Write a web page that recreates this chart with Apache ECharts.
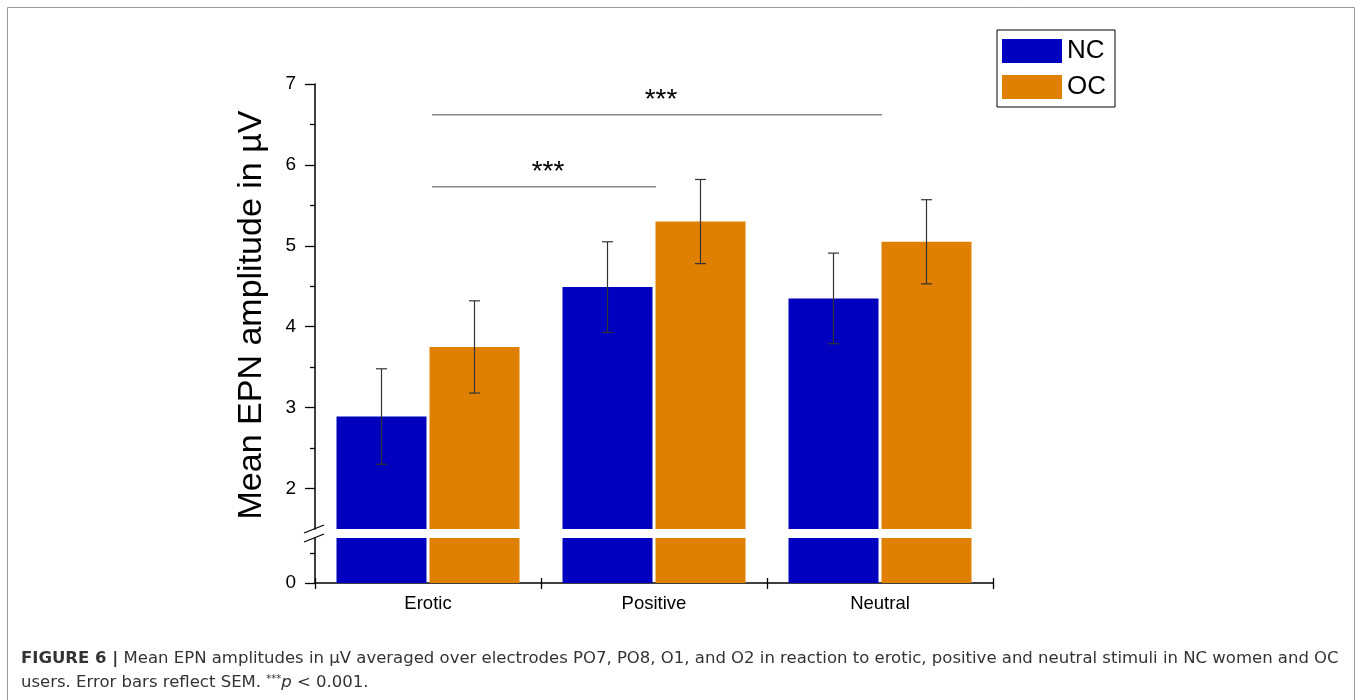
<!DOCTYPE html>
<html>
<head>
<meta charset="utf-8">
<script src="https://cdn.jsdelivr.net/npm/echarts@6/dist/echarts.min.js"></script>
<style>
html, body { margin: 0; padding: 0; background: #fff; }
#epn { width: 1362px; height: 700px; }
</style>
</head>
<body>
<div id="epn"></div>
<script>
// data (µV)
var categories = ['Erotic', 'Positive', 'Neutral'];
var ncMean = [2.89, 4.49, 4.35];
var ncSem = [0.59, 0.56, 0.56];
var ocMean = [3.75, 5.30, 5.05];
var ocSem = [0.57, 0.52, 0.52];

// ticks of the broken y axis
var upperTicks = [2, 3, 4, 5, 6, 7];
var upperMinor = [2.5, 3.5, 4.5, 5.5, 6.5];
var lowerTicks = [0];
var lowerMinor = [0.5];

// significance bars: from category, to category, height, label
var sigFrom = [0, 0];
var sigTo = [1, 2];
var sigHeight = [5.73, 6.62];
var sigLabel = ['***', '***'];

(function () {

var chart = echarts.init(document.getElementById('epn'));

var FONT = 'Liberation Sans, Arial, Helvetica, sans-serif';
var CAP_FONT = 'DejaVu Sans, Verdana, sans-serif';
var BAR_W = 90;
var GAP = 3;
var OFF = BAR_W / 2 + GAP / 2;

function errData(mean, sem) {
    return mean.map(function (m, i) { return [i, m - sem[i], m + sem[i]]; });
}

function errorBars(sign) {
    return function (params, api) {
        var lo = api.coord([api.value(0), api.value(1)]);
        var hi = api.coord([api.value(0), api.value(2)]);
        var x = lo[0] + sign * OFF;
        var st = { stroke: '#333', lineWidth: 1.2 };
        return {
            type: 'group',
            children: [
                { type: 'line', shape: { x1: x, y1: lo[1], x2: x, y2: hi[1] }, style: st },
                { type: 'line', shape: { x1: x - 5.5, y1: lo[1], x2: x + 5.5, y2: lo[1] }, style: st },
                { type: 'line', shape: { x1: x - 5.5, y1: hi[1], x2: x + 5.5, y2: hi[1] }, style: st }
            ]
        };
    };
}

var sigData = sigFrom.map(function (f, i) { return [f, sigTo[i], sigHeight[i]]; });

var yLabel = { fontSize: 19, color: '#000', fontFamily: FONT, margin: 19 };
var tickLine = { color: '#000', width: 1.3 };

option = {
    animation: false,
    legend: {
        data: ['NC', 'OC'],
        orient: 'vertical',
        left: 997,
        top: 30,
        icon: 'rect',
        itemWidth: 60,
        itemHeight: 24,
        itemGap: 10,
        padding: [8, 9, 7, 5],
        borderColor: '#000',
        borderWidth: 1,
        textStyle: { fontSize: 26, color: '#000', fontFamily: FONT }
    },
    grid: [
        { left: 315, right: 369, top: 84, height: 445 },
        { left: 315, right: 369, top: 538, height: 45 }
    ],
    xAxis: [
        { type: 'category', gridIndex: 0, data: categories, show: false },
        {
            type: 'category', gridIndex: 1, data: categories, position: 'bottom',
            axisLine: { lineStyle: { color: '#000', width: 1.5 } },
            axisTick: { show: true, length: 6, lineStyle: tickLine },
            axisLabel: { fontSize: 18.5, color: '#000', fontFamily: FONT, margin: 11 }
        },
        {
            type: 'category', gridIndex: 1, data: categories, position: 'bottom',
            axisLine: { show: false },
            axisTick: { show: true, inside: true, length: 5, lineStyle: tickLine },
            axisLabel: { show: false }
        }
    ],
    yAxis: [
        {
            type: 'value', gridIndex: 0, min: 1.5, max: 7, position: 'left',
            splitLine: { show: false },
            axisLine: { show: true, lineStyle: { color: '#000', width: 1.5 } },
            axisTick: { show: true, length: 10, customValues: upperTicks, lineStyle: tickLine },
            axisLabel: Object.assign({ customValues: upperTicks }, yLabel)
        },
        {
            type: 'value', gridIndex: 0, min: 1.5, max: 7, position: 'left',
            splitLine: { show: false },
            axisLine: { show: false },
            axisTick: { show: true, length: 5, customValues: upperMinor, lineStyle: tickLine },
            axisLabel: { show: false }
        },
        {
            type: 'value', gridIndex: 1, min: 0, max: 0.75, position: 'left',
            splitLine: { show: false },
            axisLine: { show: true, lineStyle: { color: '#000', width: 1.5 } },
            axisTick: { show: true, length: 10, customValues: lowerTicks, lineStyle: tickLine },
            axisLabel: Object.assign({ customValues: lowerTicks }, yLabel)
        },
        {
            type: 'value', gridIndex: 1, min: 0, max: 0.75, position: 'left',
            splitLine: { show: false },
            axisLine: { show: false },
            axisTick: { show: true, length: 5, customValues: lowerMinor, lineStyle: tickLine },
            axisLabel: { show: false }
        }
    ],
    series: [
        { name: 'NC', type: 'bar', xAxisIndex: 0, yAxisIndex: 0, data: ncMean, barWidth: BAR_W, barGap: (GAP / BAR_W * 100) + '%', clip: true, itemStyle: { color: '#0000BE' } },
        { name: 'OC', type: 'bar', xAxisIndex: 0, yAxisIndex: 0, data: ocMean, barWidth: BAR_W, clip: true, itemStyle: { color: '#E08000' } },
        { name: 'NC', type: 'bar', xAxisIndex: 1, yAxisIndex: 2, data: ncMean, barWidth: BAR_W, barGap: (GAP / BAR_W * 100) + '%', clip: true, itemStyle: { color: '#0000BE' } },
        { name: 'OC', type: 'bar', xAxisIndex: 1, yAxisIndex: 2, data: ocMean, barWidth: BAR_W, clip: true, itemStyle: { color: '#E08000' } },
        {
            name: 'NC SEM', type: 'custom', xAxisIndex: 0, yAxisIndex: 0, z: 5,
            data: errData(ncMean, ncSem), encode: { x: 0, y: [1, 2] },
            renderItem: errorBars(-1)
        },
        {
            name: 'OC SEM', type: 'custom', xAxisIndex: 0, yAxisIndex: 0, z: 5,
            data: errData(ocMean, ocSem), encode: { x: 0, y: [1, 2] },
            renderItem: errorBars(1)
        },
        {
            name: 'sig', type: 'custom', xAxisIndex: 0, yAxisIndex: 0, z: 5,
            data: sigData, encode: { x: [0, 1], y: 2 },
            renderItem: function (params, api) {
                var a = api.coord([api.value(0), api.value(2)]);
                var b = api.coord([api.value(1), api.value(2)]);
                var x1 = a[0] + 4, x2 = b[0] + 2;
                return {
                    type: 'group',
                    children: [
                        { type: 'line', shape: { x1: x1, y1: a[1], x2: x2, y2: a[1] }, style: { stroke: '#888', lineWidth: 1.5 } },
                        { type: 'text', style: { text: sigLabel[params.dataIndex], x: (x1 + x2) / 2 + 4, y: a[1] - 14, align: 'center', verticalAlign: 'middle', font: '28px ' + FONT, fill: '#000' } }
                    ]
                };
            }
        }
    ],
    graphic: [
        { type: 'rect', shape: { x: 7.5, y: 7.5, width: 1347, height: 760 }, style: { fill: 'none', stroke: '#999', lineWidth: 1 }, silent: true },
        { type: 'line', shape: { x1: 304, y1: 533, x2: 324, y2: 525 }, style: { stroke: '#000', lineWidth: 1.3 } },
        { type: 'line', shape: { x1: 304, y1: 542, x2: 324, y2: 534 }, style: { stroke: '#000', lineWidth: 1.3 } },
        {
            type: 'text', x: 252, y: 315, rotation: Math.PI / 2,
            style: { text: 'Mean EPN amplitude in µV', font: '34px ' + FONT, fill: '#000', align: 'center', verticalAlign: 'middle' }
        },
        {
            type: 'text', x: 21, y: 659,
            style: {
                text: '{b|FIGURE 6 |} Mean EPN amplitudes in µV averaged over electrodes PO7, PO8, O1, and O2 in reaction to erotic, positive and neutral stimuli in NC women and OC',
                font: '16.5px ' + CAP_FONT, fill: '#333', verticalAlign: 'middle',
                rich: {
                    b: { fontWeight: 'bold', fontSize: 16.5, fontFamily: CAP_FONT, fill: '#333' }
                }
            }
        },
        {
            type: 'text', x: 21, y: 683,
            style: {
                text: 'users. Error bars reflect SEM. {s|***}{i|p} < 0.001.',
                font: '16.5px ' + CAP_FONT, fill: '#333', verticalAlign: 'middle', lineHeight: 18,
                rich: {
                    s: { fontSize: 10, fontFamily: CAP_FONT, fill: '#333', verticalAlign: 'top', lineHeight: 18 },
                    i: { fontStyle: 'italic', fontSize: 16.5, fontFamily: CAP_FONT, fill: '#333', lineHeight: 18 }
                }
            }
        }
    ]
};

chart.setOption(option);
})();
</script>
</body>
</html>
